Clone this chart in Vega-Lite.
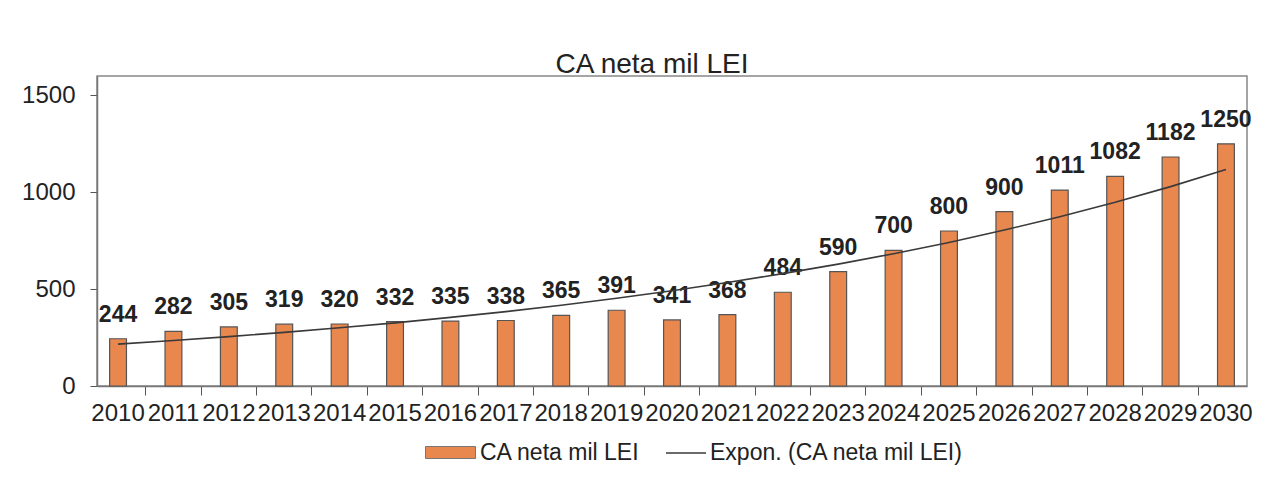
{
  "$schema": "https://vega.github.io/schema/vega-lite/v6.json",
  "width": 1150,
  "height": 310,
  "autosize": "none",
  "padding": {"left": 97, "top": 76, "right": 24, "bottom": 104},
  "background": "white",
  "title": {"text": "CA neta mil LEI", "fontSize": 28, "font": "Liberation Sans", "fontWeight": "normal", "color": "#222", "anchor": "middle", "dx": -20, "offset": -3, "frame": "group"},
  "config": {"view": {"stroke": "#888", "strokeWidth": 1.5}, "font": "Liberation Sans"},
  "data": {"values": [
    {"year": "2010", "value": 244, "trend": 216},
    {"year": "2011", "value": 282, "trend": 235},
    {"year": "2012", "value": 305, "trend": 255},
    {"year": "2013", "value": 319, "trend": 277},
    {"year": "2014", "value": 320, "trend": 301},
    {"year": "2015", "value": 332, "trend": 326},
    {"year": "2016", "value": 335, "trend": 354},
    {"year": "2017", "value": 338, "trend": 384},
    {"year": "2018", "value": 365, "trend": 417},
    {"year": "2019", "value": 391, "trend": 453},
    {"year": "2020", "value": 341, "trend": 492},
    {"year": "2021", "value": 368, "trend": 534},
    {"year": "2022", "value": 484, "trend": 580},
    {"year": "2023", "value": 590, "trend": 629},
    {"year": "2024", "value": 700, "trend": 683},
    {"year": "2025", "value": 800, "trend": 741},
    {"year": "2026", "value": 900, "trend": 805},
    {"year": "2027", "value": 1011, "trend": 874},
    {"year": "2028", "value": 1082, "trend": 948},
    {"year": "2029", "value": 1182, "trend": 1029},
    {"year": "2030", "value": 1250, "trend": 1117}
  ]},
  "encoding": {
    "x": {"field": "year", "type": "ordinal", "scale": {"paddingInner": 0.24, "paddingOuter": 0},
      "axis": {"title": null, "labelAngle": 0, "labelFontSize": 24, "labelColor": "#222", "labelPadding": 6, "tickSize": 9, "tickColor": "#555", "domainColor": "#777", "domainWidth": 1.5, "bandPosition": 1.158, "tickOpacity": {"condition": {"test": "datum.value == '2030'", "value": 0}, "value": 1}, "labelOverlap": false, "labelBound": false}}
  },
  "layer": [
    {
      "mark": {"type": "bar", "stroke": "#555", "strokeWidth": 1.2, "width": {"band": 0.4}},
      "encoding": {
        "y": {"field": "value", "type": "quantitative", "scale": {"domain": [0, 1500]},
          "axis": {"title": null, "values": [0, 500, 1000, 1500], "format": "d", "labelFontSize": 24, "labelColor": "#222", "labelPadding": 15, "tickSize": 7, "tickColor": "#555", "grid": false, "domainColor": "#777", "domainWidth": 1.5}},
        "fill": {"datum": "CA neta mil LEI", "type": "nominal", "scale": {"range": ["#E8874E"]},
          "legend": {"title": null, "orient": "none", "legendX": 328, "legendY": 351, "padding": 0, "symbolType": "M-1,-0.24H1V0.24H-1Z", "symbolSize": 2500, "symbolStrokeColor": "#777", "symbolStrokeWidth": 1, "symbolOpacity": 1, "labelFontSize": 23, "labelColor": "#222", "labelOffset": 4, "labelLimit": 0, "labelFont": "Liberation Sans"}}
      }
    },
    {
      "mark": {"type": "text", "baseline": "alphabetic", "dy": -17, "fontSize": 23, "fontWeight": "bold", "color": "#222"},
      "encoding": {
        "y": {"field": "value", "type": "quantitative"},
        "text": {"field": "value", "type": "quantitative", "format": "d"}
      }
    },
    {
      "mark": {"type": "line", "strokeWidth": 1.6},
      "encoding": {
        "y": {"field": "trend", "type": "quantitative"},
        "stroke": {"datum": "Expon. (CA neta mil LEI)", "type": "nominal", "scale": {"range": ["#3a3a3a"]},
          "legend": {"title": null, "orient": "none", "legendX": 568, "legendY": 356, "padding": 0, "symbolType": "stroke", "symbolSize": 1600, "symbolStrokeWidth": 1.6, "labelFontSize": 23, "labelColor": "#222", "labelOffset": 3, "labelLimit": 0, "labelFont": "Liberation Sans"}}
      }
    }
  ]
}
